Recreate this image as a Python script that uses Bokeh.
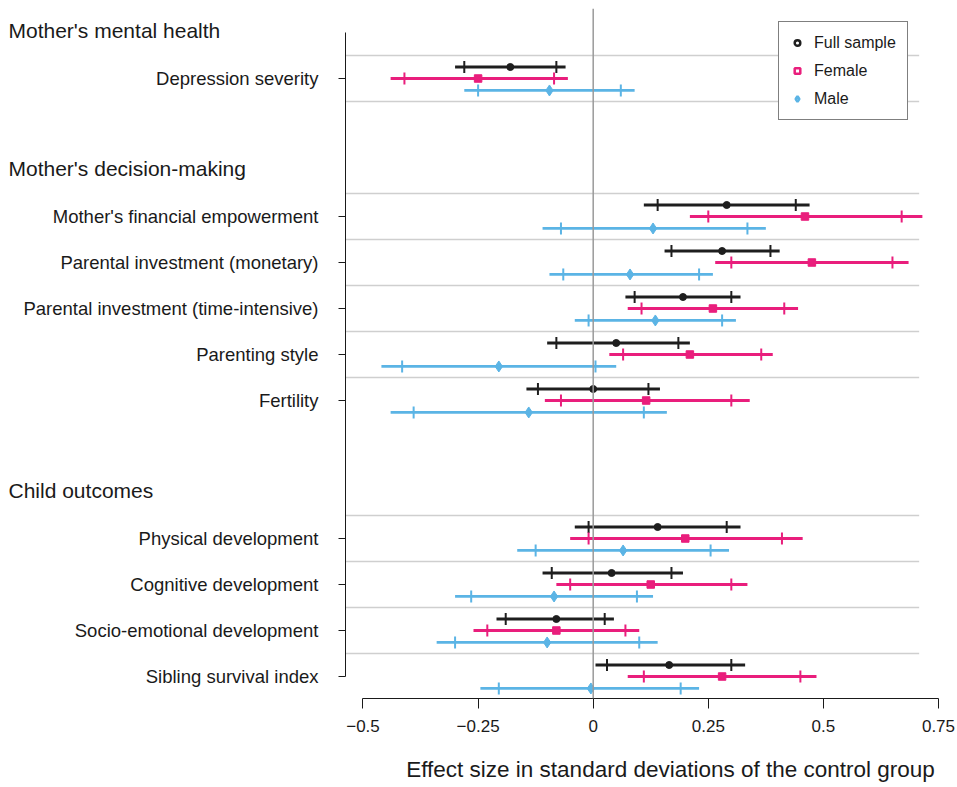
import math
from bokeh.plotting import figure
from bokeh.layouts import row
from bokeh.models import (Range1d, FixedTicker, Span, Legend, LegendItem, ColumnDataSource,
                          LinearAxis)
from bokeh.core.properties import value
from bokeh.embed import file_html
from bokeh.resources import INLINE

# ---------------- data ----------------
groups = ["Mother's mental health", "Mother's decision-making", "Child outcomes"]
items = ["Depression severity", "Mother's financial empowerment", "Parental investment (monetary)",
         "Parental investment (time-intensive)", "Parenting style", "Fertility",
         "Physical development", "Cognitive development", "Socio-emotional development",
         "Sibling survival index"]
item_group = [0, 1, 1, 1, 1, 1, 2, 2, 2, 2]
series = ["Full sample", "Female", "Male"]

full_est  = [-0.18, 0.29, 0.28, 0.195, 0.05, 0.00, 0.14, 0.04, -0.08, 0.165]
full_lo95 = [-0.30, 0.11, 0.155, 0.07, -0.10, -0.145, -0.04, -0.11, -0.21, 0.005]
full_hi95 = [-0.06, 0.47, 0.405, 0.32, 0.21, 0.145, 0.32, 0.195, 0.045, 0.33]
full_lo90 = [-0.28, 0.14, 0.17, 0.09, -0.08, -0.12, -0.01, -0.09, -0.19, 0.03]
full_hi90 = [-0.08, 0.44, 0.385, 0.30, 0.185, 0.12, 0.29, 0.17, 0.025, 0.30]

fem_est  = [-0.25, 0.46, 0.475, 0.26, 0.21, 0.115, 0.20, 0.125, -0.08, 0.28]
fem_lo95 = [-0.44, 0.21, 0.265, 0.075, 0.035, -0.105, -0.05, -0.08, -0.26, 0.075]
fem_hi95 = [-0.055, 0.715, 0.685, 0.445, 0.39, 0.34, 0.455, 0.335, 0.10, 0.485]
fem_lo90 = [-0.41, 0.25, 0.30, 0.105, 0.065, -0.07, -0.01, -0.05, -0.23, 0.11]
fem_hi90 = [-0.085, 0.67, 0.65, 0.415, 0.365, 0.30, 0.41, 0.30, 0.07, 0.45]

male_est  = [-0.095, 0.13, 0.08, 0.135, -0.205, -0.14, 0.065, -0.085, -0.10, -0.005]
male_lo95 = [-0.28, -0.11, -0.095, -0.04, -0.46, -0.44, -0.165, -0.30, -0.34, -0.245]
male_hi95 = [0.09, 0.375, 0.26, 0.31, 0.05, 0.16, 0.295, 0.13, 0.14, 0.23]
male_lo90 = [-0.25, -0.07, -0.065, -0.01, -0.415, -0.39, -0.125, -0.265, -0.30, -0.205]
male_hi90 = [0.06, 0.335, 0.23, 0.28, 0.005, 0.11, 0.255, 0.095, 0.10, 0.19]

x_ticks = [-0.5, -0.25, 0, 0.25, 0.5, 0.75]
x_tick_labels = ["\u22120.5", "\u22120.25", "0", "0.25", "0.5", "0.75"]
x_title = "Effect size in standard deviations of the control group"

# ---------------- layout of rows ----------------
pos, header_pos = [], []
cur, prev = None, None
for g in item_group:
    if g != prev:
        cur = 0 if cur is None else cur + 3
        header_pos.append(cur - 1.05)
    else:
        cur += 1
    pos.append(cur)
    prev = g
grid_rows = [p_ - 0.5 for p_ in pos] + [pos[0] + 0.5]

FONT = "Liberation Sans"
TXT = "#1a1a1a"
BLACK, PINK, BLUE = "#1e1e1e", "#E91E7C", "#5BB4E5"

W, H = 957, 787
LW = 322                      # width of the label column
TOP, BOTTOM = 8, 89
yr = Range1d(13.478, -1.522)

# ---------------- label column ----------------
lab = figure(width=LW, height=H, output_backend="svg", toolbar_location=None,
             x_range=Range1d(0, LW), y_range=yr, x_axis_location=None, y_axis_location=None,
             min_border_left=0, min_border_right=0, min_border_top=TOP, min_border_bottom=BOTTOM)
lab.outline_line_color = None
lab.xgrid.visible = False
lab.ygrid.visible = False
lab.text(x=[8] * len(groups), y=header_pos, text=groups, text_font=value(FONT),
         text_font_size=value("21px"), text_color=TXT, text_baseline="middle", text_align="left")
lab.text(x=[318] * len(items), y=pos, text=items, text_font=value(FONT),
         text_font_size=value("18.5px"), text_color=TXT, text_baseline="middle", text_align="right")

# ---------------- main panel ----------------
X0, X1 = -0.538, 0.7587
p = figure(width=W - LW, height=H, output_backend="svg", toolbar_location=None,
           x_range=Range1d(X0, X1), y_range=yr,
           min_border_left=345 - LW, min_border_right=15, min_border_top=TOP,
           min_border_bottom=BOTTOM)
p.outline_line_color = None
p.xgrid.visible = False
p.ygrid.visible = False

p.segment(x0=[X0] * len(grid_rows), x1=[0.708] * len(grid_rows), y0=grid_rows, y1=grid_rows,
          line_color="#cfcfcf", line_width=1.6)
p.add_layout(Span(location=0, dimension="height", line_color="#9a9a9a", line_width=1.5))

specs = [
    (full_est, full_lo95, full_hi95, full_lo90, full_hi90, BLACK, "circle", 7, -0.25),
    (fem_est, fem_lo95, fem_hi95, fem_lo90, fem_hi90, PINK, "square", 7.5, 0.0),
    (male_est, male_lo95, male_hi95, male_lo90, male_hi90, BLUE, "diamond", 11, 0.26),
]
for est, lo95, hi95, lo90, hi90, col, mk, sz, off in specs:
    ys = [y + off for y in pos]
    src = ColumnDataSource(dict(y=ys, est=est, lo95=lo95, hi95=hi95, lo90=lo90, hi90=hi90))
    p.segment(x0="lo95", x1="hi95", y0="y", y1="y", source=src, line_color=col, line_width=2.8)
    p.scatter(x="lo90", y="y", source=src, marker="dash", angle=math.pi / 2, size=12,
              line_color=col, line_width=2)
    p.scatter(x="hi90", y="y", source=src, marker="dash", angle=math.pi / 2, size=12,
              line_color=col, line_width=2)
    p.scatter(x="est", y="y", source=src, marker=mk, size=sz, fill_color=col, line_color=col)

leg_r = []
for col, mk, sz in [(BLACK, "circle", 7), (PINK, "square", 7), (BLUE, "diamond", 10)]:
    leg_r.append(p.scatter(x=[-9], y=[-9], marker=mk, size=sz, fill_color="white",
                           line_color=col, line_width=2.5))
legend = Legend(items=[LegendItem(label=s, renderers=[r]) for s, r in zip(series, leg_r)],
                location=(433, 578))
legend.border_line_color = "black"
legend.border_line_width = 1
legend.background_fill_alpha = 1
legend.label_text_font = FONT
legend.label_text_font_size = "16px"
legend.label_text_color = TXT
legend.padding = 11
legend.spacing = 9
legend.glyph_width = 14
legend.glyph_height = 19
legend.label_height = 19
legend.label_standoff = 10
legend.margin = 0
p.add_layout(legend)

# x axis
xa = p.xaxis[0]
xa.ticker = FixedTicker(ticks=x_ticks)
xa.major_label_overrides = {t: l for t, l in zip(x_ticks, x_tick_labels)}
xa.bounds = (-0.5, 0.75)
xa.minor_tick_line_color = None
xa.major_tick_out = 10
xa.major_tick_in = 0
xa.major_tick_line_color = TXT
xa.axis_line_color = TXT
xa.major_label_standoff = 11
xa.major_label_text_font = FONT
xa.major_label_text_font_size = "17px"
xa.major_label_text_color = TXT

# x-axis title, carried by a second (line-less) bottom axis so it can sit off-centre
title_x = 0.168
ta = LinearAxis(ticker=FixedTicker(ticks=[title_x]), major_label_overrides={title_x: x_title},
                axis_line_color=None, major_tick_line_color=None, minor_tick_line_color=None,
                major_tick_out=0, major_tick_in=0, major_label_standoff=22,
                major_label_text_font=FONT, major_label_text_font_size="22.5px",
                major_label_text_color=TXT)
p.add_layout(ta, "below")

# y axis (ticks only; labels live in the label column)
ya = p.yaxis[0]
ya.ticker = FixedTicker(ticks=pos)
ya.major_label_overrides = {pp: "" for pp in pos}
ya.bounds = (-1, 13)
ya.minor_tick_line_color = None
ya.major_tick_out = 7
ya.major_tick_in = 0
ya.major_label_standoff = 0
ya.major_tick_line_color = TXT
ya.axis_line_color = TXT

layout = row(lab, p, spacing=0)
open("out.html", "w").write(file_html(layout, INLINE))
